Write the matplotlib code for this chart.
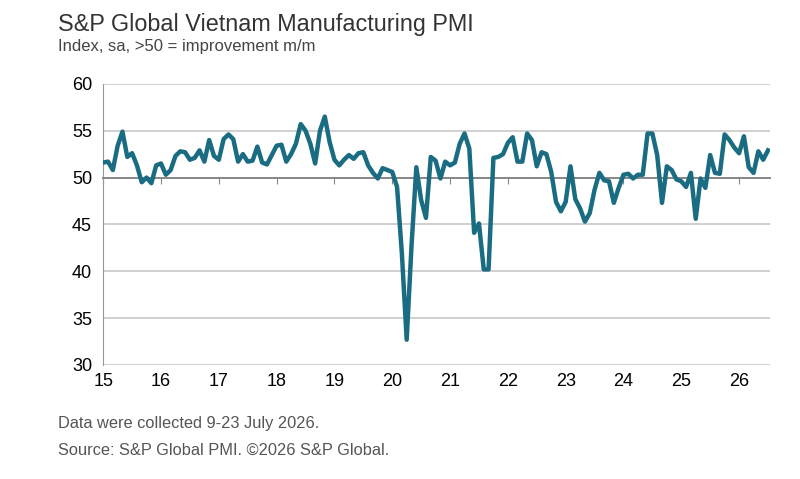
import matplotlib
matplotlib.use("Agg")
import matplotlib.pyplot as plt
import numpy as np

# Monthly PMI, Jan 2015 - Jul 2026
pmi = [
    51.6, 51.7, 50.8, 53.4, 54.9, 52.2, 52.6, 51.3, 49.5, 50.0, 49.4, 51.3,
    51.5, 50.3, 50.8, 52.3, 52.8, 52.7, 51.9, 52.1, 52.9, 51.7, 54.0, 52.3,
    51.9, 54.1, 54.6, 54.1, 51.7, 52.5, 51.7, 51.8, 53.3, 51.6, 51.4, 52.4,
    53.4, 53.5, 51.7, 52.5, 53.6, 55.7, 55.0, 53.6, 51.5, 55.0, 56.5, 53.8,
    51.9, 51.3, 51.9, 52.4, 52.0, 52.6, 52.7, 51.3, 50.5, 49.9, 51.0, 50.8,
    50.6, 49.0, 41.9, 32.7, 42.7, 51.1, 47.6, 45.7, 52.2, 51.8, 49.9, 51.7,
    51.3, 51.6, 53.6, 54.7, 53.1, 44.1, 45.1, 40.2, 40.2, 52.1, 52.2, 52.5,
    53.7, 54.3, 51.7, 51.7, 54.7, 54.0, 51.2, 52.7, 52.5, 50.6, 47.4, 46.4,
    47.4, 51.2, 47.7, 46.7, 45.3, 46.2, 48.7, 50.5, 49.7, 49.6, 47.3, 48.9,
    50.3, 50.4, 49.9, 50.3, 50.3, 54.7, 54.7, 52.4, 47.3, 51.2, 50.8, 49.8,
    49.6, 49.0, 50.5, 45.6, 49.9, 48.9, 52.4, 50.5, 50.4, 54.6, 54.0, 53.2,
    52.6, 54.4, 51.1, 50.5, 52.8, 51.9, 52.9,
]
year_labels = ["15", "16", "17", "18", "19", "20", "21", "22", "23", "24", "25", "26"]

plt.rcParams["font.family"] = ["Liberation Sans", "DejaVu Sans"]

fig = plt.figure(figsize=(8, 4.79), dpi=100)
ax = fig.add_axes([0.129, 0.238, 0.834, 0.587])

months = np.arange(len(pmi))
ax.plot(months, pmi, color="#1a6c82", lw=3.2, solid_joinstyle="round", zorder=3)

ax.set_xlim(0, 138.5)
ax.set_ylim(30, 60)
ax.set_yticks(range(30, 61, 5))
ax.grid(axis="y", color="#c8c8c8", lw=1.2)
ax.set_axisbelow(True)

for s in ["top", "right"]:
    ax.spines[s].set_visible(False)
ax.spines["left"].set_color("#999999")
ax.spines["bottom"].set_position(("data", 50))
ax.spines["bottom"].set_color("#888888")
ax.spines["bottom"].set_linewidth(1.4)

tick_pos = np.arange(len(year_labels)) * 12
ax.set_xticks(tick_pos)
ax.tick_params(axis="x", direction="out", length=4, color="#888888", labelbottom=False)
ax.tick_params(axis="y", length=0, labelsize=13, pad=8)

sec = ax.secondary_xaxis("bottom")
sec.set_xticks(tick_pos)
sec.set_xticklabels(year_labels)
sec.tick_params(length=0, labelsize=13, pad=6)
sec.spines["bottom"].set_visible(False)

fig.text(0.072, 0.935, "S&P Global Vietnam Manufacturing PMI", fontsize=16.8, color="#333333")
fig.text(0.072, 0.893, "Index, sa, >50 = improvement m/m", fontsize=12, color="#444444")
fig.text(0.072, 0.107, "Data were collected 9-23 July 2026.", fontsize=11.8, color="#555555")
fig.text(0.072, 0.05, "Source: S&P Global PMI. ©2026 S&P Global.", fontsize=11.8, color="#555555")

fig.savefig("out.png", dpi=100)
